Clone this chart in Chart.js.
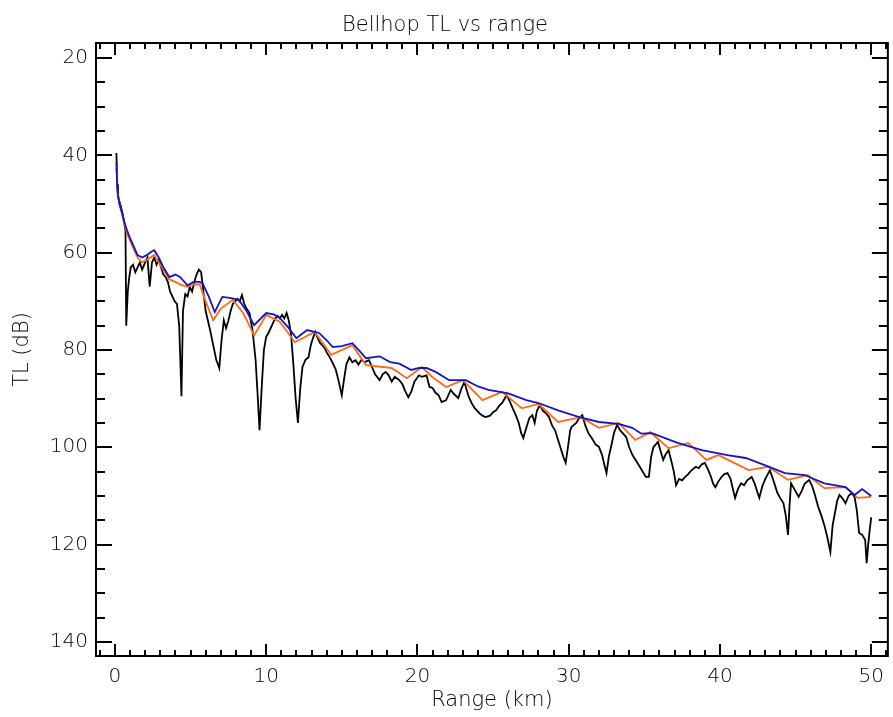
<!DOCTYPE html>
<html>
<head>
<meta charset="utf-8">
<title>Bellhop TL vs range</title>
<script src="https://cdn.jsdelivr.net/npm/chart.js@4.4.1/dist/chart.umd.min.js"></script>
<style>
  html, body { margin: 0; padding: 0; background: #fff; }
  #wrap { width: 893px; height: 717px; }
</style>
</head>
<body>
<div id="wrap"><canvas id="tl-chart" width="893" height="717"></canvas></div>
<script>
// axis ticks (km / dB)
const xTicks = [0, 10, 20, 30, 40, 50];
const yTicks = [20, 40, 60, 80, 100, 120, 140];

// coherent TL (black)
const blackRange = [0.1, 0.15, 0.2, 0.3, 0.4, 0.5, 0.6, 0.7, 0.75, 0.85, 0.95, 1.05, 1.2, 1.35, 1.5, 1.65, 1.8, 2.0, 2.15, 2.3,
  2.45, 2.6, 2.75, 2.9, 3.05, 3.2, 3.35, 3.5, 3.65, 3.8, 3.95, 4.1, 4.25, 4.4, 4.5, 4.65, 4.8, 4.95, 5.1, 5.25,
  5.4, 5.55, 5.7, 5.85, 6.0, 6.15, 6.3, 6.5, 6.7, 6.9, 7.05, 7.2, 7.35, 7.5, 7.65, 7.8, 7.95, 8.1, 8.25, 8.4,
  8.55, 8.7, 8.9, 9.1, 9.3, 9.45, 9.56, 9.7, 9.85, 10.0, 10.15, 10.3, 10.45, 10.6, 10.75, 10.9, 11.05, 11.2, 11.35, 11.5,
  11.65, 11.8, 11.95, 12.1, 12.25, 12.4, 12.6, 12.8, 12.95, 13.1, 13.25, 13.4, 13.55, 13.7, 13.85, 14.0, 14.2, 14.4, 14.6, 14.8,
  15.0, 15.15, 15.3, 15.5, 15.7, 15.9, 16.1, 16.3, 16.5, 16.8, 17.0, 17.2, 17.5, 17.7, 17.9, 18.1, 18.3, 18.5, 18.8, 19.0,
  19.2, 19.4, 19.6, 19.8, 20.1, 20.3, 20.6, 20.8, 21.0, 21.2, 21.4, 21.6, 21.9, 22.2, 22.4, 22.7, 22.9, 23.1, 23.4, 23.6,
  23.8, 24.1, 24.3, 24.5, 24.8, 25.0, 25.2, 25.4, 25.6, 25.9, 26.1, 26.3, 26.5, 26.7, 26.85, 27.0, 27.2, 27.4, 27.6, 27.75,
  27.9, 28.1, 28.3, 28.5, 28.7, 28.9, 29.1, 29.3, 29.5, 29.65, 29.8, 29.95, 30.1, 30.2, 30.5, 30.7, 30.9, 31.1, 31.3, 31.5,
  31.8, 32.0, 32.2, 32.35, 32.5, 32.65, 32.8, 33.0, 33.2, 33.4, 33.6, 33.8, 34.0, 34.2, 34.4, 34.6, 34.8, 35.1, 35.3, 35.45,
  35.6, 35.9, 36.1, 36.25, 36.4, 36.6, 36.8, 36.95, 37.1, 37.3, 37.5, 37.7, 37.9, 38.1, 38.4, 38.6, 38.8, 39.0, 39.2, 39.4,
  39.55, 39.7, 39.9, 40.1, 40.3, 40.5, 40.7, 40.85, 41.0, 41.2, 41.4, 41.6, 41.8, 42.1, 42.3, 42.45, 42.6, 42.8, 43.0, 43.3,
  43.5, 43.8, 44.0, 44.2, 44.35, 44.5, 44.6, 44.7, 44.9, 45.2, 45.4, 45.6, 45.9, 46.1, 46.3, 46.5, 46.7, 46.9, 47.1, 47.3,
  47.45, 47.6, 47.75, 47.9, 48.1, 48.3, 48.5, 48.7, 48.9, 49.05, 49.2, 49.4, 49.6, 49.7, 49.8, 49.9, 50.0];
const blackTL = [39.5, 46, 48.5, 49.5, 50.5, 52, 53.5, 55.5, 75, 68, 65, 63, 62.5, 64, 63, 62, 63.5, 62, 61, 67,
  62, 61, 62.5, 61.5, 63, 64.5, 65, 66, 68, 69, 70, 70.5, 75, 89.5, 72, 68.5, 69, 67, 68, 66,
  64.5, 63.5, 64, 68, 72, 74, 76, 79, 82, 83.7, 78, 73.9, 75.5, 74, 72, 70.5, 70, 69.5, 70, 68.7,
  70.5, 71.5, 72.4, 76, 82, 90, 96.5, 88, 80, 77.3, 76.5, 75.5, 74.5, 73.5, 73, 73.5, 72.8, 73.5, 72.4, 74,
  77, 83, 90, 95, 88, 83.5, 82, 81.5, 79, 77.5, 76.3, 77.5, 78.5, 79, 79.5, 80.5, 81.5, 82.7, 84, 86.5,
  89.3, 86, 83, 81.5, 82.5, 82.1, 83, 82, 82.5, 82.1, 83.5, 85, 86.2, 85, 84.5, 85.2, 86.5, 85.5, 86.2, 87,
  88.5, 89.7, 88.5, 86.5, 85.2, 85.5, 85.2, 87.6, 87.8, 88.8, 89.3, 90.7, 90.3, 88.2, 89, 89.9, 88, 86.6, 89.7, 91,
  92, 93, 93.5, 93.8, 93.5, 92.8, 92.4, 91.5, 90.9, 89.3, 90.5, 92, 93.4, 95, 97, 98.1, 96, 94, 93.4, 95,
  92.5, 91.3, 92.5, 93, 93.8, 95.5, 96.5, 98.5, 100.5, 102, 103.2, 100, 96.5, 95.8, 95, 94, 93.4, 95.5, 97.1, 98,
  99.5, 99.9, 101.5, 103.5, 105.3, 102, 99.9, 97, 95.4, 96.5, 97.2, 97.9, 100, 101.5, 102.5, 103.5, 104.5, 106.1, 106.1, 102,
  100, 98.9, 101, 102.6, 101.5, 100.6, 103, 105, 107.8, 106.5, 106.8, 106.1, 105.5, 104.8, 104, 104.3, 103.5, 103.2, 104.5, 106,
  107.5, 108.2, 107, 106.1, 105.5, 105.3, 106.5, 108.5, 110.4, 108.5, 107.4, 107.8, 106.8, 106.1, 107.5, 109, 110.4, 108, 106.5, 104.7,
  106.5, 109.4, 110.5, 111.5, 114, 118, 112, 107.4, 108.5, 110.2, 109, 107.5, 106.7, 108, 110, 112.3, 114, 116, 118.5, 121.5,
  116, 113.5, 111, 109.8, 110.5, 111.5, 110, 109.4, 110.2, 113, 117.6, 118, 119, 123.8, 120, 117, 114.4];

// orange curve
const orangeRange = [0.1, 0.2, 0.3, 0.5, 0.8, 1.2, 1.5, 1.8, 2.1, 2.6, 2.9, 3.2, 3.6, 4.0, 4.3, 4.8, 5.2, 5.6, 6.0, 6.5,
  7.0, 7.8, 8.5, 9.2, 10.0, 10.9, 11.9, 13.2, 14.3, 15.7, 16.6, 18.3, 19.3, 20.3, 21.0, 21.9, 23.0, 24.3, 25.6, 26.9,
  28.0, 29.3, 30.8, 32.0, 33.3, 34.4, 35.4, 36.6, 37.9, 39.1, 39.9, 41.9, 43.2, 44.5, 45.8, 46.9, 48.3, 49.1, 50.0];
const orangeTL = [42.6, 48, 50, 52.5, 56, 59, 61, 62, 61.5, 60.5, 62, 63.5, 65.5, 66, 66.5, 67, 66.5, 66.5, 70, 73.9,
  71.5, 69.7, 72.5, 77, 72.8, 74.2, 78.4, 76.3, 81, 79, 83.1, 83.7, 85.8, 83.5, 85.6, 87.6, 86.2, 90.3, 88.6, 92,
  91.1, 94.8, 93.8, 96, 95, 98.5, 96.9, 100.2, 99.1, 102.6, 101.6, 104.7, 104, 106.7, 105.7, 108.4, 108.2, 110.4, 110.2];

// blue curve
const blueRange = [0.1, 0.15, 0.2, 0.3, 0.4, 0.5, 0.6, 0.8, 1.0, 1.2, 1.5, 1.8, 2.1, 2.4, 2.6, 2.9, 3.2, 3.6, 4.0, 4.3,
  4.8, 5.2, 5.6, 5.8, 6.2, 6.6, 7.1, 7.6, 8.2, 8.7, 9.2, 10.0, 10.5, 10.9, 11.5, 12.0, 12.7, 13.5, 14.0, 14.4,
  15.0, 15.7, 16.2, 16.6, 17.5, 18.2, 18.8, 19.6, 20.1, 20.6, 21.2, 22.1, 23.2, 24.0, 24.7, 26.0, 27.2, 28.0, 29.3, 30.7,
  32.0, 33.3, 34.2, 34.8, 35.5, 37.2, 38.8, 40.5, 41.7, 43.0, 44.3, 45.6, 46.9, 48.3, 48.9, 49.4, 50.0];
const blueTL = [41.5, 46, 48, 50, 51, 52, 53.5, 55.4, 57, 58.4, 60.5, 61, 60.5, 59.8, 59.5, 61, 63, 65, 64.5, 65,
  66.7, 66, 66, 66.3, 69, 72.2, 69.1, 69.3, 69.7, 72, 74.9, 72.4, 72.7, 73.4, 75.5, 77.6, 75.9, 76.5, 78, 79.4,
  79.2, 78.6, 80.3, 81.7, 81.3, 82.5, 82.8, 84.1, 83.7, 83.7, 84.5, 86.2, 86.2, 87.5, 88.2, 88.9, 90.3, 90.9, 92.4, 93.8,
  94.8, 95.2, 96, 97.2, 97.1, 99.1, 100.6, 101.6, 102.2, 103.7, 105.3, 105.7, 107.4, 108.2, 109.8, 108.6, 110];

function pairs(xs, ys) {
  return xs.map((v, i) => ({ x: v, y: ys[i] }));
}

// IDL style frame: box on all four sides, ticks pointing inward
const idlFrame = {
  id: 'idlFrame',
  afterDatasetsDraw(chart) {
    const { ctx, chartArea: a } = chart;
    const xs = chart.scales.x;
    const ys = chart.scales.y;
    ctx.save();
    ctx.strokeStyle = '#000';
    ctx.lineWidth = 2;
    ctx.strokeRect(a.left, a.top, a.right - a.left, a.bottom - a.top);
    ctx.beginPath();
    for (let v = -1; v <= 51; v++) {
      const px = Math.round(xs.getPixelForValue(v));
      const len = xTicks.includes(v) ? 12 : 6;
      ctx.moveTo(px, a.bottom); ctx.lineTo(px, a.bottom - len);
      ctx.moveTo(px, a.top); ctx.lineTo(px, a.top + len);
    }
    for (let v = 20; v <= 140; v += 5) {
      const py = Math.round(ys.getPixelForValue(v));
      const len = yTicks.includes(v) ? 16 : 9;
      ctx.moveTo(a.left, py); ctx.lineTo(a.left + len, py);
      ctx.moveTo(a.right, py); ctx.lineTo(a.right - len, py);
    }
    ctx.stroke();
    ctx.restore();
  }
};

const lineStyle = { borderWidth: 1.8, pointRadius: 0, tension: 0, fill: false };

Chart.defaults.color = '#000';
Chart.defaults.font.family = "'DejaVu Sans', sans-serif";

new Chart(document.getElementById('tl-chart'), {
  type: 'line',
  data: {
    datasets: [
      { label: 'blue', data: pairs(blueRange, blueTL), borderColor: '#1414c8', order: 1, ...lineStyle },
      { label: 'orange', data: pairs(orangeRange, orangeTL), borderColor: '#ff6a14', order: 2, ...lineStyle },
      { label: 'black', data: pairs(blackRange, blackTL), borderColor: '#000000', order: 3, ...lineStyle }
    ]
  },
  options: {
    responsive: false,
    animation: false,
    devicePixelRatio: 1,
    layout: { padding: { left: 0, right: 3, top: 0, bottom: 0 } },
    plugins: {
      legend: { display: false },
      tooltip: { enabled: false },
      title: {
        display: true,
        text: 'Bellhop TL vs range',
        font: { size: 21, weight: '200' },
        padding: { top: 13, bottom: 4.8 }
      }
    },
    scales: {
      x: {
        type: 'linear',
        min: -1.25,
        max: 51.1,
        grid: { display: false, drawTicks: false },
        border: { display: false },
        afterBuildTicks: (s) => { s.ticks = xTicks.map(v => ({ value: v })); },
        afterFit: (s) => { s.height = 61; },
        ticks: { padding: 9, maxRotation: 0, font: { size: 20, weight: '200' } },
        title: { display: true, text: 'Range (km)', font: { size: 21, weight: '200' }, padding: { top: 0, bottom: 4 } }
      },
      y: {
        type: 'linear',
        reverse: true,
        min: 16.9,
        max: 142.9,
        grid: { display: false, drawTicks: false },
        border: { display: false },
        afterBuildTicks: (s) => { s.ticks = yTicks.map(v => ({ value: v })); },
        afterFit: (s) => { s.width = 96; },
        ticks: { padding: 8, font: { size: 20, weight: '200' } },
        title: { display: true, text: 'TL (dB)', font: { size: 21, weight: '200' }, padding: { top: 10, bottom: 0 } }
      }
    }
  },
  plugins: [idlFrame]
});
</script>
</body>
</html>
